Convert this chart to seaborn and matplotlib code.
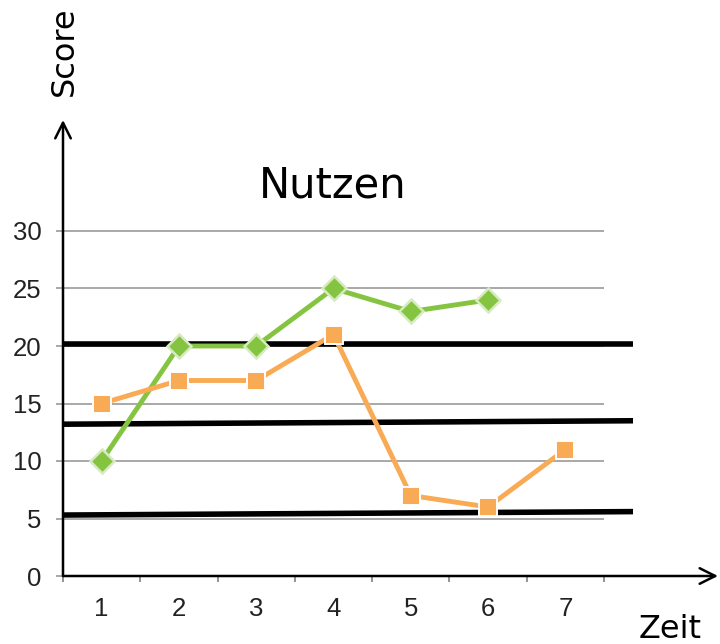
import numpy as np
import pandas as pd
import matplotlib
matplotlib.use("Agg")
import matplotlib.pyplot as plt
import seaborn as sns

# Data
zeit = [1, 2, 3, 4, 5, 6, 7]
gruen = [10, 20, 20, 25, 23, 24]
orange = [15, 17, 17, 21, 7, 6, 11]
y_ticks = [0, 5, 10, 15, 20, 25, 30]
# Reference bands (start value, end value)
band_start = [20.2, 13.2, 5.3]
band_end = [20.2, 13.5, 5.6]

sns.set_theme(style="white")
plt.rcParams["font.family"] = ["DejaVu Sans"]

W, H = 720, 644
fig = plt.figure(figsize=(W / 100, H / 100), dpi=100)
x0, x1, y0, y1 = 63, 718, 576, 120
ax = fig.add_axes([x0 / W, (H - y0) / H, (x1 - x0) / W, (y0 - y1) / H])

px_per_x = (604 - 63) / 7.0
px_per_y = (576 - 231) / 30.0
xmin = 0.5
xmax = xmin + (x1 - x0) / px_per_x
ymax = (y0 - y1) / px_per_y
ax.set_xlim(xmin, xmax)
ax.set_ylim(0, ymax)

for s in ax.spines.values():
    s.set_visible(False)

# Horizontal gridlines
ax.hlines(y_ticks[1:], 0.5, 7.5, color="#a8a8a8", lw=1.4, zorder=1)

# Thick reference bands
band_x_end = 0.5 + (633 - 63) / px_per_x
for a, b in zip(band_start, band_end):
    ax.plot([0.5, band_x_end], [a, b], color="black", lw=4.0,
            solid_capstyle="butt", zorder=2, clip_on=False)

df_g = pd.DataFrame({"Zeit": zeit[:len(gruen)], "Score": gruen})
df_o = pd.DataFrame({"Zeit": zeit, "Score": orange})

sns.lineplot(data=df_g, x="Zeit", y="Score", ax=ax, color="#85c441",
             lw=3.5, marker="D", markersize=12.5, markeredgecolor="#d6ebc2",
             markeredgewidth=1.8, zorder=4)
sns.lineplot(data=df_o, x="Zeit", y="Score", ax=ax, color="#f8aa55",
             lw=3.5, marker="s", markersize=13.5, markeredgecolor="white",
             markeredgewidth=1.4, zorder=5)

# Axes arrows
ax.annotate("", xy=(0.5, ymax), xytext=(0.5, 0),
            arrowprops=dict(arrowstyle="->", lw=1.8, color="black",
                            mutation_scale=28, shrinkA=0, shrinkB=0),
            annotation_clip=False, zorder=6)
ax.annotate("", xy=(xmax, 0), xytext=(0.5, 0),
            arrowprops=dict(arrowstyle="->", lw=1.8, color="black",
                            mutation_scale=28, shrinkA=0, shrinkB=0),
            annotation_clip=False, zorder=6)

# Ticks
ax.set_yticks(y_ticks)
ax.set_yticklabels([str(v) for v in y_ticks], fontfamily="Liberation Sans",
                   fontsize=18.5, color="#222222")
ax.tick_params(axis="y", length=5, width=1.4, color="#a8a8a8", pad=10.5,
               left=True, direction="out")
ax.set_xticks(zeit)
ax.set_xticklabels([str(v) for v in zeit], fontfamily="Liberation Sans",
                   fontsize=18.5, color="#222222")
ax.tick_params(axis="x", which="major", length=0, pad=15)
ax.set_xticks(np.arange(0.5, 8.0, 1.0), minor=True)
ax.tick_params(axis="x", which="minor", length=4.5, width=1.2,
               color="#808080", bottom=True, direction="out")
ax.set_xlabel("")
ax.set_ylabel("")
ax.grid(False)

# Titles and axis names
fig.text(333 / W, 1 - 197 / H, "Nutzen", fontsize=30, ha="center",
         va="baseline", color="black")
fig.text(64 / W, 1 - 51 / H, "Score", fontsize=23, rotation=90,
         ha="center", va="center", color="black")
fig.text(639 / W, 1 - 638 / H, "Zeit", fontsize=23, ha="left",
         va="baseline", color="black")

fig.savefig("out.png", dpi=100, facecolor="white")
